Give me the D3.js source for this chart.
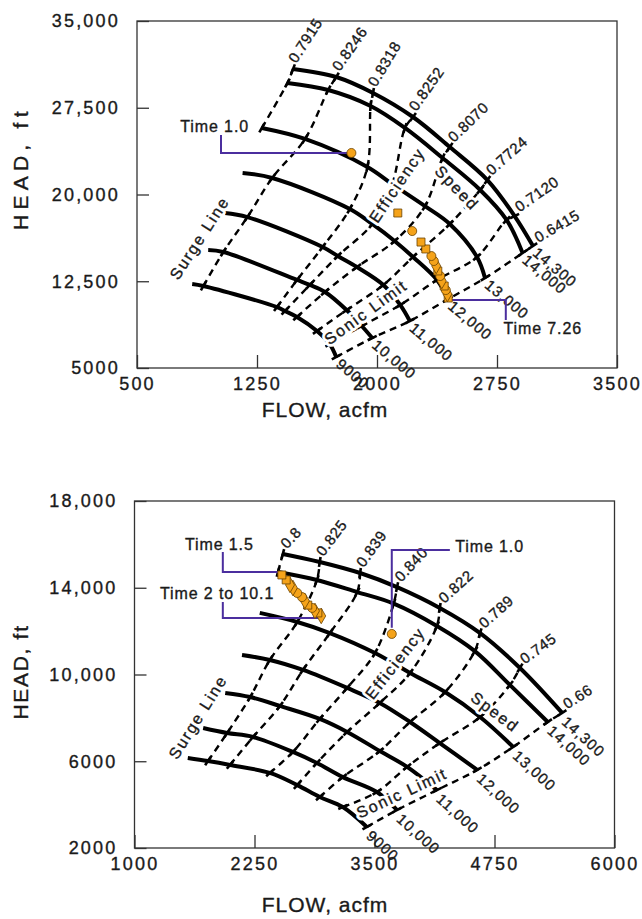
<!DOCTYPE html>
<html>
  <head>
    <meta charset="utf-8">
    <title>Compressor performance maps</title>
    <script src="https://cdn.jsdelivr.net/npm/d3@7"></script>
    <style>
      body { margin: 0; background: #fff; }
      svg text { font-family: "Liberation Sans", Arial, Helvetica, sans-serif; fill: #1a1a1a; stroke: #1a1a1a; stroke-width: 0.35px; }
      svg text.halo { fill: #fff; stroke: #fff; stroke-width: 6px; stroke-linejoin: round; }
    </style>
  </head>
  <body>
    <svg id="chart" width="642" height="919"></svg>

    <script>
      // ---- upper map: speed lines 9000..14,300 rpm ----
      // each speed line: [surge end, 6 efficiency crossings, sonic end]
      var topSpeedLabels = ["9000", "10,000", "11,000", "12,000", "13,000", "14,000", "14,300"];
      var topEffLabels = ["0.7915", "0.8246", "0.8318", "0.8252", "0.8070", "0.7724", "0.7120", "0.6415"];
      var topFlow = [
        [845, 915, 1375, 1425, 1500, 1625, 1705, 1745],
        [945, 1040, 1500, 1580, 1675, 1810, 1905, 1970],
        [1050, 1190, 1660, 1755, 1875, 2040, 2145, 2205],
        [1160, 1345, 1830, 1970, 2110, 2225, 2375, 2445],
        [1280, 1550, 1940, 2095, 2300, 2455, 2625, 2675],
        [1440, 1695, 1960, 2175, 2410, 2645, 2810, 2910],
        [1475, 1745, 1975, 2225, 2455, 2690, 2860, 2975]
      ];
      var topHead = [
        [12260, 12090, 10270, 9930, 9410, 8200, 7070, 5950],
        [15200, 15030, 12610, 12180, 11570, 10010, 8630, 7590],
        [18400, 18050, 15460, 14680, 13730, 12180, 10450, 9060],
        [21860, 21430, 18750, 17450, 15980, 14600, 12610, 10960],
        [25750, 24800, 22380, 20900, 19000, 17450, 14600, 12780],
        [29640, 29030, 27650, 25750, 23150, 20390, 17800, 14940],
        [30850, 30160, 28780, 26700, 24100, 21250, 18140, 15550]
      ];
      var topRunFlow = [1840, 2130, 2220, 2275, 2305, 2340, 2355, 2370, 2380, 2395, 2405, 2420, 2430, 2440, 2445];
      var topRunHead = [23590, 18400, 16840, 15890, 15290, 14680, 14250, 13820, 13390, 12950, 12520, 12090, 11740, 11400, 11050];
      var topRunShape = ["circle", "square", "circle", "square", "square", "circle", "circle", "diamond",
                         "square", "circle", "diamond", "square", "circle", "diamond", "square"];
      var topXTicks = [500, 1250, 2000, 2750, 3500];
      var topYTicks = [5000, 12500, 20000, 27500, 35000];

      // ---- lower map ----
      var botSpeedLabels = ["9000", "10,000", "11,000", "12,000", "13,000", "14,000", "14,300"];
      var botEffLabels = ["0.8", "0.825", "0.839", "0.840", "0.822", "0.789", "0.745", "0.66"];
      var botFlow = [
        [1555, 1765, 1995, 2410, 2695, 2930, 3170, 3420],
        [1715, 1965, 2235, 2650, 2900, 3170, 3525, 3735],
        [1945, 2205, 2515, 2930, 3215, 3555, 3840, 4150],
        [2120, 2410, 2755, 3215, 3555, 3870, 4180, 4570],
        [2305, 2695, 3035, 3505, 3870, 4235, 4600, 4945],
        [2495, 2900, 3320, 3700, 4150, 4545, 4910, 5305],
        [2545, 2930, 3350, 3735, 4180, 4600, 5015, 5455]
      ];
      var botHead = [
        [6150, 6010, 5830, 5460, 4900, 4350, 3890, 2970],
        [7530, 7300, 7120, 6430, 5920, 5270, 4580, 3750],
        [9150, 8960, 8550, 7950, 7350, 6470, 5740, 4670],
        [10900, 10670, 10210, 9380, 8690, 7810, 6840, 5600],
        [12840, 12420, 11910, 10990, 10070, 9190, 8040, 6660],
        [14730, 14360, 13800, 13270, 12240, 11080, 9520, 7810],
        [15560, 15190, 14680, 14030, 13070, 11910, 10300, 8230]
      ];
      var botRunFlow = [3680, 2535, 2580, 2620, 2650, 2695, 2745, 2775, 2805, 2850, 2880, 2910, 2945];
      var botRunHead = [11870, 14590, 14360, 14130, 13990, 13760, 13570, 13390, 13200, 13070, 12930, 12840, 12700];
      var botRunShape = ["circle", "square", "square", "diamond", "diamond", "circle", "circle", "diamond",
                         "square", "circle", "diamond", "square", "diamond"];
      var botXTicks = [1000, 2250, 3500, 4750, 6000];
      var botYTicks = [2000, 6000, 10000, 14000, 18000];

      // call-outs (flow, head)
      var topNotes = [
        { label: "Time 1.0", at: [770, 25920], leader: [[1025, 25140], [1025, 23590], [1815, 23590]] },
        { label: "Time 7.26", at: [2790, 8460], leader: [[2460, 10880], [2805, 10880], [2805, 9150]] }
      ];
      var botNotes = [
        { label: "Time 1.5", at: [1525, 16020], leader: [[1920, 15650], [1920, 14730], [2515, 14730]] },
        { label: "Time 2 to 10.1", at: [1265, 13760], leader: [[1920, 13340], [1920, 12600], [2930, 12600]] },
        { label: "Time 1.0", at: [4340, 15925], leader: [[4285, 15740], [3680, 15740], [3680, 12150]] }
      ];
      var topZones = [
        { label: "Surge Line", at: [890, 16240], angle: -57 },
        { label: "Efficiency", at: [2125, 20820], angle: -56 },
        { label: "Speed", at: [2500, 20560], angle: 46 },
        { label: "Sonic Limit", at: [1930, 9840], angle: -36 }
      ];
      var botZones = [
        { label: "Surge Line", at: [1660, 8040], angle: -58 },
        { label: "Efficiency", at: [3715, 10530], angle: -52 },
        { label: "Speed", at: [4755, 8270], angle: 37 },
        { label: "Sonic Limit", at: [3785, 4535], angle: -25 }
      ];

      var svg = d3.select("#chart");
      var orange = "#f5a31a", purple = "#4b2e9e";
      var fmt = function(d) { return d >= 10000 ? d3.format(",")(d) : String(d); };
      var shapes = { circle: d3.symbolCircle, square: d3.symbolSquare, diamond: d3.symbolDiamond };

      function drawMap(c) {
        var x = d3.scaleLinear().domain(c.xDomain).range(c.xRange);
        var y = d3.scaleLinear().domain(c.yDomain).range(c.yRange);
        var g = svg.append("g");
        var pt = function(d) { return [x(d[0]), y(d[1])]; };
        var line = d3.line()
          .x(function(d) { return x(d[0]); })
          .y(function(d) { return y(d[1]); })
          .curve(d3.curveCatmullRom.alpha(0.5));

        var curves = c.flow.map(function(f, i) { return d3.zip(f, c.head[i]); });
        var n = c.flow[0].length;
        var effLines = d3.range(n).map(function(k) {
          return curves
            .filter(function(cv, i) { return k > 0 || i >= c.surgeFrom; })
            .map(function(cv) { return cv[k]; });
        });

        // frame and axes
        g.append("rect")
          .attr("x", c.xRange[0]).attr("y", c.yRange[1])
          .attr("width", c.xRange[1] - c.xRange[0])
          .attr("height", c.yRange[0] - c.yRange[1])
          .attr("fill", "none").attr("stroke", "#333").attr("stroke-width", 1.3);

        var ya = g.append("g")
          .attr("transform", "translate(" + c.xRange[0] + ",0)")
          .call(d3.axisLeft(y).tickValues(c.yTicks).tickFormat(fmt)
            .tickSizeInner(-12).tickSizeOuter(0).tickPadding(17));
        var xa = g.append("g")
          .attr("transform", "translate(0," + c.yRange[0] + ")")
          .call(d3.axisBottom(x).tickValues(c.xTicks).tickFormat(fmt)
            .tickSizeInner(-13).tickSizeOuter(0).tickPadding(9));
        [ya, xa].forEach(function(a) {
          a.select(".domain").remove();
          a.attr("font-size", null).attr("font-family", null);
          a.selectAll("line").attr("stroke", "#333").attr("stroke-width", 1.3);
          a.selectAll("text")
            .style("font-size", "18px")
            .style("letter-spacing", "2.2px")
            .attr("fill", "#1a1a1a");
        });

        g.append("text")
          .attr("transform", "translate(21," + c.yTitleY + ") rotate(-90)")
          .attr("text-anchor", "middle").attr("dy", "0.35em")
          .style("font-size", "21px").style("letter-spacing", "1.5px")
          .attr("textLength", c.yTitleLen).attr("lengthAdjust", "spacing")
          .text("HEAD, ft");
        g.append("text")
          .attr("x", 325).attr("y", c.xTitleY)
          .attr("text-anchor", "middle").attr("dy", "0.35em")
          .style("font-size", "21px").style("letter-spacing", "1px")
          .text("FLOW, acfm");

        // dashed efficiency lines, then speed lines
        g.append("g").selectAll("path").data(effLines).join("path")
          .attr("d", line).attr("fill", "none")
          .attr("stroke", "#000").attr("stroke-width", 2.4).attr("stroke-dasharray", "7,5");
        g.append("g").selectAll("path").data(curves).join("path")
          .attr("d", line).attr("fill", "none")
          .attr("stroke", "#000").attr("stroke-width", 4);

        // short solid marks where the efficiency lines meet the speed lines
        var marks = [];
        effLines.forEach(function(ln) {
          var p = ln.map(pt);
          p.forEach(function(q, j) {
            var a = p[Math.max(j - 1, 0)], b = p[Math.min(j + 1, p.length - 1)];
            var dx = b[0] - a[0], dy = b[1] - a[1], L = Math.hypot(dx, dy) || 1;
            marks.push([q[0] - 5 * dx / L, q[1] - 5 * dy / L, q[0] + 5 * dx / L, q[1] + 5 * dy / L]);
          });
        });
        g.append("g").selectAll("line").data(marks).join("line")
          .attr("x1", function(d) { return d[0]; }).attr("y1", function(d) { return d[1]; })
          .attr("x2", function(d) { return d[2]; }).attr("y2", function(d) { return d[3]; })
          .attr("stroke", "#000").attr("stroke-width", 2.6);

        // efficiency labels above the top speed line
        var topCurve = curves[curves.length - 1];
        g.append("g").selectAll("text").data(c.effLabels).join("text")
          .attr("transform", function(d, k) {
            var p = pt(topCurve[k]), a = c.effAngle[k] * Math.PI / 180;
            return "translate(" + (p[0] + 6 * Math.cos(a)) + "," + (p[1] + 6 * Math.sin(a)) + ") rotate(" + c.effAngle[k] + ")";
          })
          .style("font-size", "15px").style("letter-spacing", "0.6px")
          .text(function(d) { return d; });

        // speed labels past the sonic end
        g.append("g").selectAll("text").data(c.speedLabels).join("text")
          .attr("transform", function(d, i) {
            var p = pt(curves[i][n - 1]);
            return "translate(" + (p[0] + c.speedOff[0]) + "," + (p[1] + c.speedOff[1]) + ") rotate(" + c.speedAngle + ")";
          })
          .attr("dy", "0.75em")
          .style("font-size", "15px").style("letter-spacing", "1px")
          .text(function(d) { return d; });

        // zone names; a white copy underneath breaks the lines
        ["halo", "zone"].forEach(function(cls) {
          g.append("g").selectAll("text").data(c.zones).join("text")
            .attr("class", cls)
            .attr("transform", function(d) {
              var p = pt(d.at);
              return "translate(" + p[0] + "," + p[1] + ") rotate(" + d.angle + ")";
            })
            .attr("text-anchor", "middle").attr("dy", "0.35em")
            .style("font-size", "16px").style("letter-spacing", "1.8px")
            .text(function(d) { return d.label; });
        });

        // call-outs
        var leader = d3.line().x(function(d) { return x(d[0]); }).y(function(d) { return y(d[1]); });
        g.append("g").selectAll("path").data(c.notes).join("path")
          .attr("d", function(d) { return leader(d.leader); })
          .attr("fill", "none").attr("stroke", purple).attr("stroke-width", 2);
        g.append("g").selectAll("text").data(c.notes).join("text")
          .attr("x", function(d) { return x(d.at[0]); })
          .attr("y", function(d) { return y(d.at[1]); })
          .attr("dy", "0.35em")
          .style("font-size", "16px").style("letter-spacing", "0.9px")
          .text(function(d) { return d.label; });

        // operating points
        var run = d3.zip(c.runFlow, c.runHead, c.runShape).reverse();
        g.append("g").selectAll("path").data(run).join("path")
          .attr("transform", function(d) { return "translate(" + x(d[0]) + "," + y(d[1]) + ")"; })
          .attr("d", function(d) { return d3.symbol().type(shapes[d[2]]).size(d[2] === "diamond" ? 70 : 64)(); })
          .attr("fill", orange).attr("stroke", "#6b4200").attr("stroke-width", 0.8);
      }

      drawMap({
        xDomain: [500, 3500], xRange: [137, 617],
        yDomain: [5000, 35000], yRange: [368, 21],
        xTicks: topXTicks, yTicks: topYTicks,
        yTitleY: 170, yTitleLen: 120, xTitleY: 410,
        flow: topFlow, head: topHead, surgeFrom: 4,
        effLabels: topEffLabels, effAngle: [-57, -55, -59, -55, -44, -42, -35, -30],
        speedLabels: topSpeedLabels, speedAngle: 40, speedOff: [6, 0],
        zones: topZones, notes: topNotes,
        runFlow: topRunFlow, runHead: topRunHead, runShape: topRunShape
      });

      drawMap({
        xDomain: [1000, 6000], xRange: [134.5, 614.5],
        yDomain: [2000, 18000], yRange: [848, 501],
        xTicks: botXTicks, yTicks: botYTicks,
        yTitleY: 672, yTitleLen: 95, xTitleY: 905,
        flow: botFlow, head: botHead, surgeFrom: 5,
        effLabels: botEffLabels, effAngle: [-47, -53, -54, -47, -42, -42, -36, -33],
        speedLabels: botSpeedLabels, speedAngle: 42, speedOff: [6, 2],
        zones: botZones, notes: botNotes,
        runFlow: botRunFlow, runHead: botRunHead, runShape: botRunShape
      });
    </script>
  </body>
</html>
